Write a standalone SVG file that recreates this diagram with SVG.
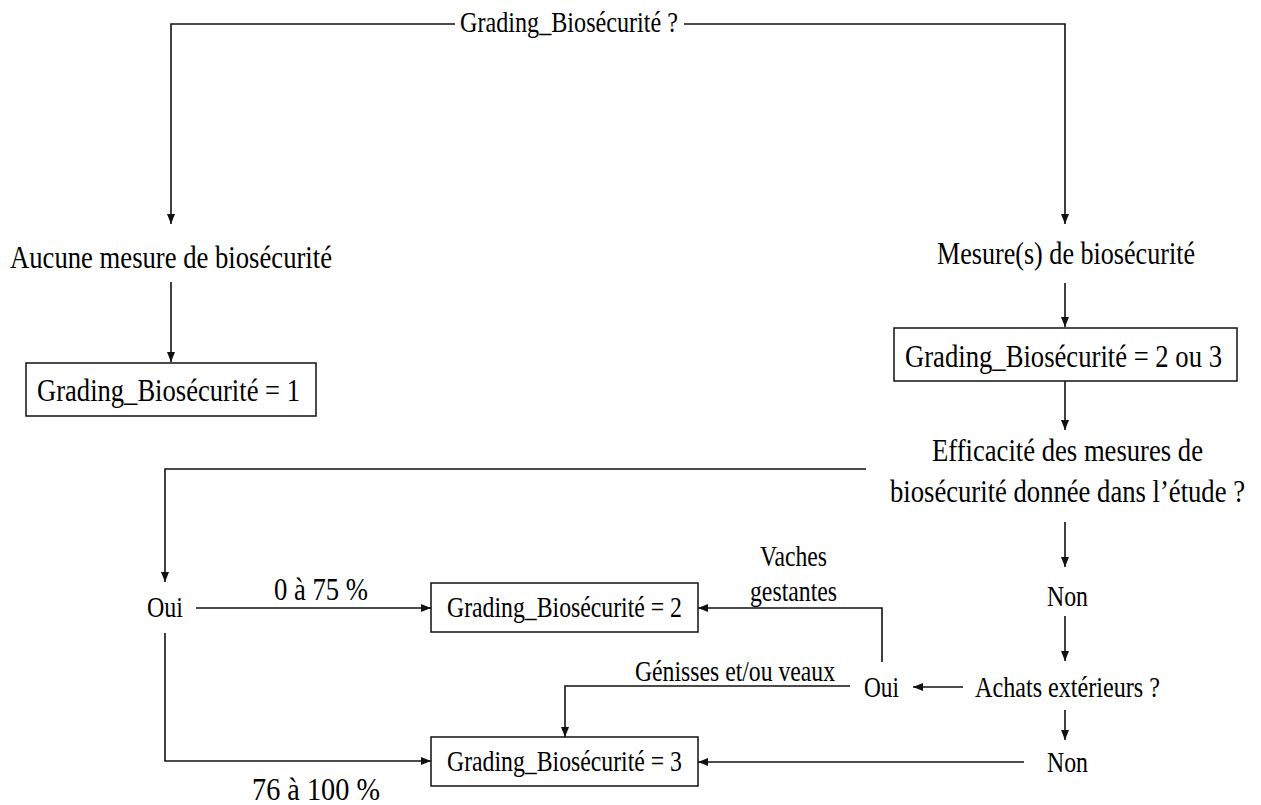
<svg xmlns="http://www.w3.org/2000/svg" width="1261" height="805" viewBox="0 0 1261 805">
  <style>
    text { font-family: "Liberation Serif", "Times New Roman", serif; fill: #000; text-anchor: middle; }
    .big { font-size: 32.5px; }
    .small { font-size: 29px; }
    .box { fill: #fff; stroke: #111; stroke-width: 1.5; }
    .wire { fill: none; stroke: #111; stroke-width: 1.6; }
  </style>
  <defs>
    <marker id="arrow" viewBox="0 0 10 8" refX="10" refY="4" markerWidth="10" markerHeight="8" markerUnits="userSpaceOnUse" orient="auto">
      <path d="M0,0 L10,4 L0,8 z" fill="#111"/>
    </marker>
  </defs>
  <rect width="1261" height="805" fill="#fff"/>

  <!-- connectors -->
  <g id="connectors">
    <!-- root question splits left and right -->
    <path class="wire" d="M455,24 H171 V224" marker-end="url(#arrow)"/>
    <path class="wire" d="M684,24 H1065 V224" marker-end="url(#arrow)"/>
    <!-- left branch -->
    <path class="wire" d="M171,282 V362" marker-end="url(#arrow)"/>
    <!-- right branch -->
    <path class="wire" d="M1065,283 V327" marker-end="url(#arrow)"/>
    <path class="wire" d="M1065,381 V430" marker-end="url(#arrow)"/>
    <!-- efficacy given: yes -->
    <path class="wire" d="M866,469 H165 V582" marker-end="url(#arrow)"/>
    <path class="wire" d="M196,608 H431" marker-end="url(#arrow)"/>
    <path class="wire" d="M165,633 V761 H431" marker-end="url(#arrow)"/>
    <!-- efficacy given: no -->
    <path class="wire" d="M1065,522 V567" marker-end="url(#arrow)"/>
    <path class="wire" d="M1065,616 V661" marker-end="url(#arrow)"/>
    <!-- external purchases -->
    <path class="wire" d="M963,687 H913" marker-end="url(#arrow)"/>
    <path class="wire" d="M1065,710 V740" marker-end="url(#arrow)"/>
    <path class="wire" d="M882,662 V608 H698" marker-end="url(#arrow)"/>
    <path class="wire" d="M850,686 H565 V737" marker-end="url(#arrow)"/>
    <path class="wire" d="M1024,762 H698" marker-end="url(#arrow)"/>

    <!-- edge labels -->
    <text class="big" x="321" y="600" textLength="94" lengthAdjust="spacingAndGlyphs">0 à 75 %</text>
    <text class="big" x="316" y="800" textLength="128" lengthAdjust="spacingAndGlyphs">76 à 100 %</text>
    <text class="small" x="793.5" y="566" textLength="67" lengthAdjust="spacingAndGlyphs">Vaches</text>
    <text class="small" x="793.5" y="601" textLength="87" lengthAdjust="spacingAndGlyphs">gestantes</text>
    <text class="small" x="735" y="681" textLength="200" lengthAdjust="spacingAndGlyphs">Génisses et/ou veaux</text>
  </g>

  <g id="q-grading">
    <text class="small" x="569" y="32" textLength="218" lengthAdjust="spacingAndGlyphs">Grading_Biosécurité ?</text>
  </g>

  <g id="aucune">
    <text class="big" x="171" y="268" textLength="322" lengthAdjust="spacingAndGlyphs">Aucune mesure de biosécurité</text>
  </g>

  <g id="grade-1">
    <rect class="box" x="26" y="363" width="290" height="53"/>
    <text class="big" x="168.5" y="401" textLength="263" lengthAdjust="spacingAndGlyphs">Grading_Biosécurité = 1</text>
  </g>

  <g id="mesures">
    <text class="big" x="1066" y="264" textLength="258" lengthAdjust="spacingAndGlyphs">Mesure(s) de biosécurité</text>
  </g>

  <g id="grade-2-3">
    <rect class="box" x="894" y="328" width="343" height="53"/>
    <text class="big" x="1063.5" y="367" textLength="317" lengthAdjust="spacingAndGlyphs">Grading_Biosécurité = 2 ou 3</text>
  </g>

  <g id="q-efficacite">
    <text class="big" x="1067.5" y="461" textLength="271" lengthAdjust="spacingAndGlyphs">Efficacité des mesures de</text>
    <text class="big" x="1067.5" y="502" textLength="355" lengthAdjust="spacingAndGlyphs">biosécurité donnée dans l’étude ?</text>
  </g>

  <g id="oui-efficacite">
    <text class="small" x="165" y="617" textLength="36" lengthAdjust="spacingAndGlyphs">Oui</text>
  </g>

  <g id="non-efficacite">
    <text class="small" x="1067.5" y="606" textLength="41" lengthAdjust="spacingAndGlyphs">Non</text>
  </g>

  <g id="q-achats">
    <text class="small" x="1067.5" y="697" textLength="185" lengthAdjust="spacingAndGlyphs">Achats extérieurs ?</text>
  </g>

  <g id="oui-achats">
    <text class="small" x="881.5" y="697" textLength="35" lengthAdjust="spacingAndGlyphs">Oui</text>
  </g>

  <g id="non-achats">
    <text class="small" x="1067.5" y="772" textLength="41" lengthAdjust="spacingAndGlyphs">Non</text>
  </g>

  <g id="grade-2">
    <rect class="box" x="431" y="583" width="267" height="49"/>
    <text class="small" x="564.5" y="617" textLength="235" lengthAdjust="spacingAndGlyphs">Grading_Biosécurité = 2</text>
  </g>

  <g id="grade-3">
    <rect class="box" x="431" y="737" width="267" height="49"/>
    <text class="small" x="564.5" y="771" textLength="235" lengthAdjust="spacingAndGlyphs">Grading_Biosécurité = 3</text>
  </g>
</svg>
